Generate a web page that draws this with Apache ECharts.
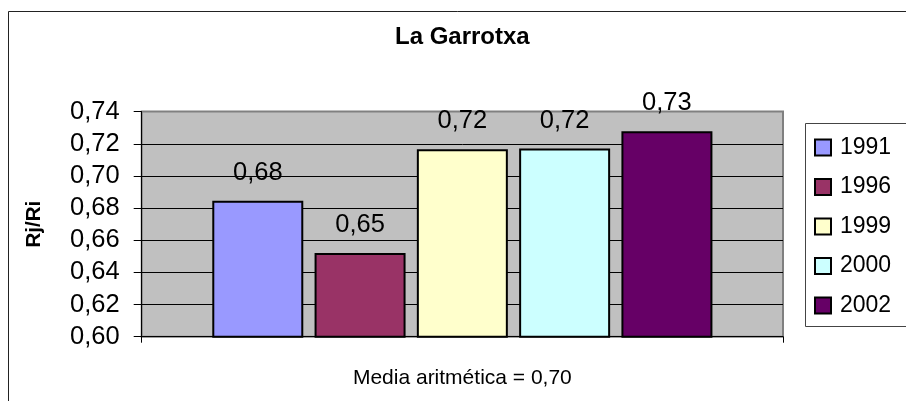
<!DOCTYPE html>
<html>
<head>
<meta charset="utf-8">
<script src="https://cdn.jsdelivr.net/npm/echarts@6/dist/echarts.min.js"></script>
<style>html,body{margin:0;padding:0;background:#fff}#c{width:906px;height:401px}</style>
</head>
<body>
<div id="c"></div>
<script>
const titleText = 'La Garrotxa';
const yAxisTitle = 'Rj/Ri';
const xAxisTitle = 'Media aritmética = 0,70';
const seriesNames = ['1991', '1996', '1999', '2000', '2002'];
const seriesValues = [0.6845, 0.652, 0.7166, 0.717, 0.7278];
const seriesColors = ['#9999FF', '#993366', '#FFFFCC', '#CCFFFF', '#660066'];
const yMin = 0.60, yMax = 0.74, yStep = 0.02;

const FONT = 'Liberation Sans, Arial, sans-serif';
const fmt = v => v.toFixed(2).replace('.', ',');

const chart = echarts.init(document.getElementById('c'), null, {renderer: 'canvas'});
chart.setOption({
  animation: false,
  backgroundColor: '#fff',
  title: {
    text: titleText, left: 395, top: 25, padding: 0,
    textStyle: {fontFamily: FONT, fontSize: 24, fontWeight: 'bold', color: '#000'}
  },
  graphic: [
    {type: 'rect', left: 6, top: 9, shape: {width: 920, height: 420}, style: {fill: 'none', stroke: '#222', lineWidth: 1}, z: -1},
    {type: 'rect', left: 805, top: 123, shape: {width: 120, height: 203}, style: {fill: '#fff', stroke: '#444', lineWidth: 1}, z: 0}
  ],
  legend: {
    orient: 'vertical', left: 814, top: 136, padding: 0,
    itemWidth: 16, itemHeight: 16, itemGap: 16.5, icon: 'rect',
    data: seriesNames,
    textStyle: {fontFamily: FONT, fontSize: 23, color: '#000', padding: [0, 0, 0, 4]},
    z: 5
  },
  grid: {
    left: 141.7, right: 123, top: 111.6, bottom: 64.3,
    show: true, backgroundColor: '#C0C0C0', borderColor: '#808080', borderWidth: 2
  },
  xAxis: {
    type: 'category', data: [''],
    name: xAxisTitle, nameLocation: 'middle', nameGap: 31,
    nameTextStyle: {fontFamily: FONT, fontSize: 21, color: '#000'},
    axisLine: {lineStyle: {color: '#000', width: 1}},
    axisTick: {show: true, length: 6, lineStyle: {color: '#000'}},
    axisLabel: {show: false}
  },
  yAxis: {
    type: 'value', min: yMin, max: yMax, interval: yStep,
    name: yAxisTitle, nameLocation: 'middle', nameRotate: 90, nameGap: 97,
    nameTextStyle: {fontFamily: FONT, fontSize: 20.5, fontWeight: 'bold', color: '#000'},
    axisLine: {show: true, lineStyle: {color: '#000', width: 1}},
    axisTick: {show: true, length: 8, lineStyle: {color: '#000'}},
    axisLabel: {formatter: fmt, margin: 22, fontFamily: FONT, fontSize: 25.5, color: '#000'},
    splitLine: {show: true, showMinLine: false, showMaxLine: false, lineStyle: {color: '#000', width: 1}}
  },
  series: seriesNames.map((n, i) => ({
    name: n, type: 'bar', barWidth: 91, barGap: '12.4%',
    data: [seriesValues[i]],
    itemStyle: {color: seriesColors[i], borderColor: '#000', borderWidth: 2},
    label: {show: true, position: 'top', distance: 15, formatter: p => fmt(p.value),
      fontFamily: FONT, fontSize: 25.5, color: '#000'}
  }))
});
</script>
</body>
</html>
